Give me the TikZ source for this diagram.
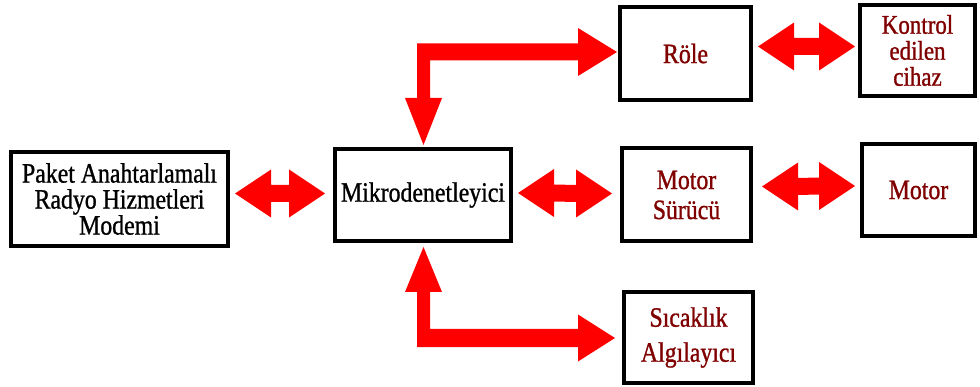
\documentclass[tikz,border=0pt]{standalone}
\usepackage{fontspec}
\setmainfont{Liberation Serif}
\newfontfamily\labelfont{Liberation Serif}[FakeStretch=0.85,FakeBold=1]
\usetikzlibrary{calc}
\definecolor{labelred}{RGB}{128,0,0}
\definecolor{arrowred}{RGB}{255,0,0}

% horizontal two-headed block arrow between two tip points
\newcommand\dblarrow[2]{%
  \fill[blockarrow] let \p1=(#1), \p2=(#2) in
    (\x1,\y1) -- (\x1+36pt,\y1+24pt) -- (\x1+36pt,\y1+8.5pt)
    -- (\x2-36pt,\y2+8.5pt) -- (\x2-36pt,\y2+24pt) -- (\x2,\y2)
    -- (\x2-36pt,\y2-24pt) -- (\x2-36pt,\y2-8.5pt)
    -- (\x1+36pt,\y1-8.5pt) -- (\x1+36pt,\y1-24pt) -- cycle;}

\begin{document}
\begin{tikzpicture}[x=1pt,y=-1pt,
  block/.style={draw=black,line width=4pt,fill=white,inner sep=0pt,
    align=center,font=\labelfont\fontsize{28}{26}\selectfont},
  redtext/.style={text=labelred},
  blockarrow/.style={fill=arrowred}]

\useasboundingbox[fill=white] (0,0) rectangle (980,387);

% blocks
\node[block,minimum width=217,minimum height=94] (modem) at (119.5,199)
  {Paket Anahtarlamalı\\Radyo Hizmetleri\\Modemi};
\node[block,minimum width=176,minimum height=92] (mcu) at (423,195)
  {Mikrodenetleyici};
\node[block,redtext,minimum width=131,minimum height=93] (role) at (685.5,53.5)
  {Röle};
\node[block,redtext,minimum width=115,minimum height=91,
  font=\labelfont\fontsize{27}{26}\selectfont] (kontrol) at (917.5,50.5)
  {Kontrol\\edilen\\cihaz};
\node[block,redtext,minimum width=129,minimum height=93,
  font=\labelfont\fontsize{28}{30}\selectfont] (surucu) at (686.5,195)
  {Motor\\Sürücü};
\node[block,redtext,minimum width=113,minimum height=92] (motor) at (918.5,190)
  {Motor};
\node[block,redtext,minimum width=129,minimum height=91,
  font=\labelfont\fontsize{28}{35}\selectfont] (sensor) at (688.5,337.5)
  {Sıcaklık\\Algılayıcı};

% two-headed links
\dblarrow{$(modem.east)+(5,-5.5)$}{$(mcu.west)+(-8,-1.5)$}
\dblarrow{$(mcu.east)+(5,-2)$}{$(surucu.west)+(-8,-1.5)$}
\dblarrow{$(surucu.east)+(9,-8.5)$}{$(motor.west)+(-5,-4)$}
\dblarrow{$(role.east)+(5,-7)$}{$(kontrol.west)+(-3,-4)$}

% bent link from the controller up to the relay
\fill[blockarrow] let \p1=($(mcu.north)+(0.5,-2)$), \p2=($(role.west)+(-1,-1.5)$) in
  (\x1,\y1) -- (\x1+18.5pt,\y1+47pt) -- (\x1+6.5pt,\y1+47pt)
  -- (\x1+6.5pt,\y2-8.5pt) -- (\x2-39pt,\y2-8.5pt) -- (\x2-39pt,\y2-24pt)
  -- (\x2,\y2) -- (\x2-39pt,\y2+24pt) -- (\x2-39pt,\y2+8.5pt)
  -- (\x1-6.5pt,\y2+8.5pt) -- (\x1-6.5pt,\y1+47pt) -- (\x1-18.5pt,\y1+47pt) -- cycle;

% bent link from the controller down to the temperature sensor
\fill[blockarrow] let \p1=($(mcu.south)+(0.5,4)$), \p2=($(sensor.west)+(-7,0.5)$) in
  (\x1,\y1) -- (\x1+18.5pt,\y1-45pt) -- (\x1+6.5pt,\y1-45pt)
  -- (\x1+6.5pt,\y2+9pt) -- (\x2-37pt,\y2+9pt) -- (\x2-37pt,\y2+23.5pt)
  -- (\x2,\y2) -- (\x2-37pt,\y2-23.5pt) -- (\x2-37pt,\y2-9pt)
  -- (\x1-6.5pt,\y2-9pt) -- (\x1-6.5pt,\y1-45pt) -- (\x1-18.5pt,\y1-45pt) -- cycle;

\end{tikzpicture}
\end{document}
